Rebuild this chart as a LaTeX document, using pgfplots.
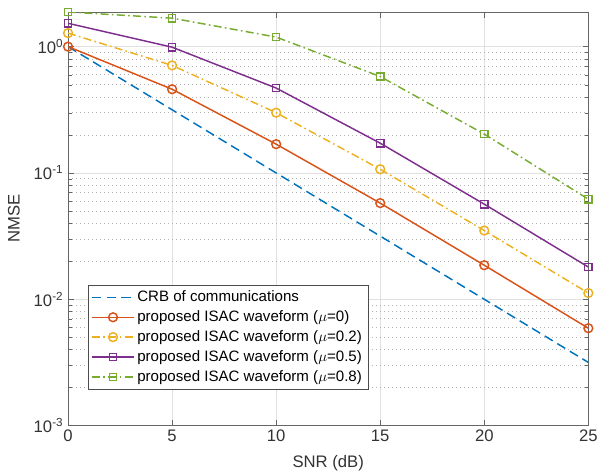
\documentclass[border=0pt]{standalone}
\usepackage{pgfplots}
\pgfplotsset{compat=1.18}
\usepackage{fontspec}
\setmainfont{Liberation Sans}
\definecolor{mblue}{rgb}{0,0.447,0.741}
\definecolor{morange}{rgb}{0.85,0.325,0.098}
\definecolor{myellow}{rgb}{0.929,0.694,0.125}
\definecolor{mpurple}{rgb}{0.494,0.184,0.556}
\definecolor{mgreen}{rgb}{0.466,0.674,0.188}
\begin{document}
\begin{tikzpicture}
\begin{axis}[
  scale only axis,
  width=390pt, height=310pt,
  ymode=log,
  xmin=0, xmax=25, ymin=1e-3, ymax=1.88,
  xtick={0,5,10,15,20,25},
  ytick={0.001,0.01,0.1,1},
  yticklabels={10\textsuperscript{-3},10\textsuperscript{-2},10\textsuperscript{-1},10\textsuperscript{0}},
  /pgf/number format/assume math mode=true,
  xlabel={SNR (dB)}, ylabel={NMSE},
  tick label style={font=\fontsize{12.5}{14}\selectfont, text=black!80},
  label style={font=\fontsize{12.5}{14}\selectfont, text=black!80},
  xlabel style={at={(axis description cs:0.5,-0.092)}, anchor=center},
  ylabel style={at={(axis description cs:-0.104,0.5)}, anchor=center},
  tick align=inside,
  tick pos=both,
  axis line style={black!60},
  major tick style={black!60},
  minor tick style={black!60},
  grid=both,
  xmajorgrids=true, ymajorgrids=true, yminorgrids=true,
  major grid style={black!12, line width=0.5pt},
  minor grid style={black!30, dash pattern=on 0.6pt off 2.4pt, line width=0.5pt},
  legend style={at={(0.038,0.087)}, anchor=south west, font=\fontsize{11.3}{13}\selectfont,
    draw=black!70, fill=white, row sep=1.2pt, inner sep=2.5pt, cells={anchor=west}},
  legend image code/.code={\draw[mark repeat=2,mark phase=2,#1] plot coordinates {(0cm,0cm)(0.55cm,0cm)(1.1cm,0cm)};},
  every axis plot/.append style={line width=1.1pt},
]
\addplot[mblue, dash pattern=on 7pt off 4pt] coordinates {(0,1) (5,0.3162) (10,0.1) (15,0.03162) (20,0.01) (25,0.003162)};
\addlegendentry{CRB of communications}
\addplot[morange, mark=o, mark size=3.3pt, mark options={solid}] coordinates {(0,1.0) (5,0.46) (10,0.169) (15,0.0577) (20,0.0186) (25,0.0059)};
\addlegendentry{proposed ISAC waveform ($\mu$=0)}
\addplot[myellow, mark=o, mark size=3.3pt, dash pattern=on 6pt off 2.5pt on 1.2pt off 2.5pt, mark options={solid}] coordinates {(0,1.28) (5,0.71) (10,0.30) (15,0.107) (20,0.035) (25,0.0112)};
\addlegendentry{proposed ISAC waveform ($\mu$=0.2)}
\addplot[mpurple, mark=square, mark size=2.7pt, mark options={solid}] coordinates {(0,1.53) (5,0.99) (10,0.47) (15,0.172) (20,0.0566) (25,0.018)};
\addlegendentry{proposed ISAC waveform ($\mu$=0.5)}
\addplot[mgreen, mark=square, mark size=2.7pt, dash pattern=on 6pt off 2.5pt on 1.2pt off 2.5pt, mark options={solid}] coordinates {(0,1.88) (5,1.68) (10,1.19) (15,0.58) (20,0.203) (25,0.062)};
\addlegendentry{proposed ISAC waveform ($\mu$=0.8)}
\end{axis}
\pgfresetboundingbox
\path ([xshift=-51pt,yshift=9pt]current axis.north west) rectangle ([xshift=8pt,yshift=-37.5pt]current axis.south east);
\end{tikzpicture}
\end{document}
